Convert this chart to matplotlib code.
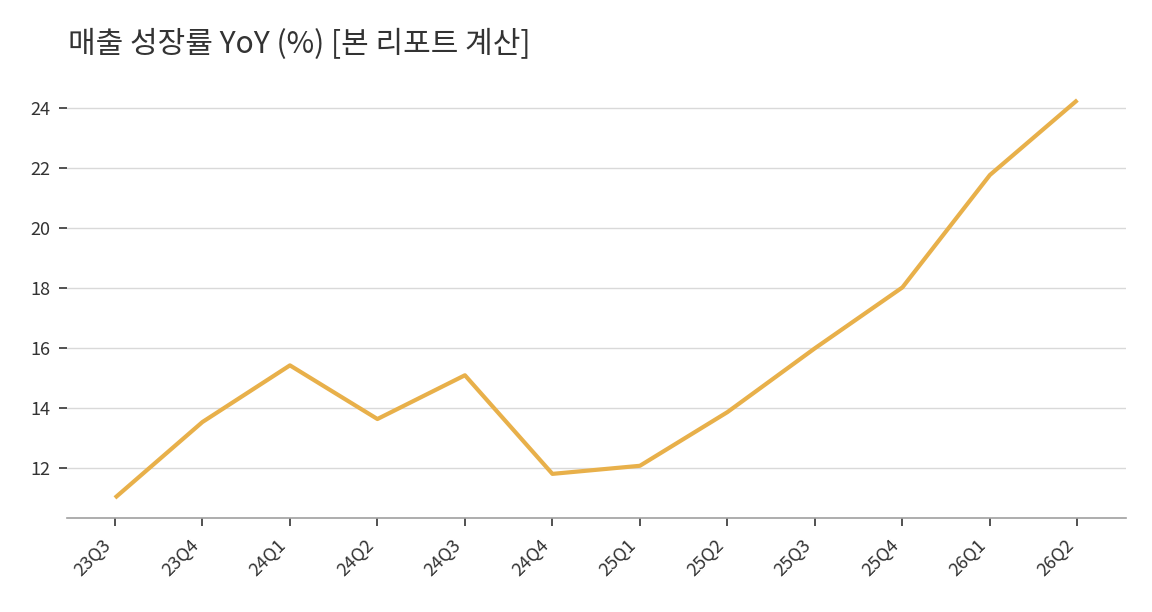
import matplotlib
matplotlib.use("Agg")
import matplotlib.pyplot as plt

plt.rcParams["font.family"] = ["Noto Sans CJK KR", "DejaVu Sans"]

quarters = ["23Q3", "23Q4", "24Q1", "24Q2", "24Q3", "24Q4",
            "25Q1", "25Q2", "25Q3", "25Q4", "26Q1", "26Q2"]
growth = [11.0, 13.53, 15.42, 13.63, 15.09, 11.80,
          12.07, 13.86, 15.99, 18.02, 21.77, 24.27]
yticks = [12, 14, 16, 18, 20, 22, 24]

INK, GRID, LINE = "#333333", "#d9d9d9", "#e8b04a"

fig = plt.figure(figsize=(11.52, 6.12), dpi=100)
ax = fig.add_axes([0.058, 0.154, 0.919, 0.715])
ax.plot(range(len(quarters)), growth, color=LINE, lw=3, solid_capstyle="butt")
ax.set_xticks(range(len(quarters)))
ax.set_xticklabels(quarters, rotation=45, ha="right")
ax.set_yticks(yticks)
ax.margins(x=0.05, y=0.05)
ax.grid(axis="y", color=GRID, lw=1)
ax.set_axisbelow(True)
for s in ["top", "right", "left"]:
    ax.spines[s].set_visible(False)
ax.spines["bottom"].set_color("#a0a0a0")
ax.spines["bottom"].set_linewidth(1.2)
ax.tick_params(colors=INK, length=6, width=1.2)
ax.tick_params(axis="y", labelsize=13, pad=6)
ax.tick_params(axis="x", labelsize=13, pad=7)
fig.text(0.059, 0.928, "매출 성장률 YoY (%) [본 리포트 계산]", fontsize=21.6, color=INK,
         ha="left", va="center")
fig.savefig("out.png", dpi=100)
